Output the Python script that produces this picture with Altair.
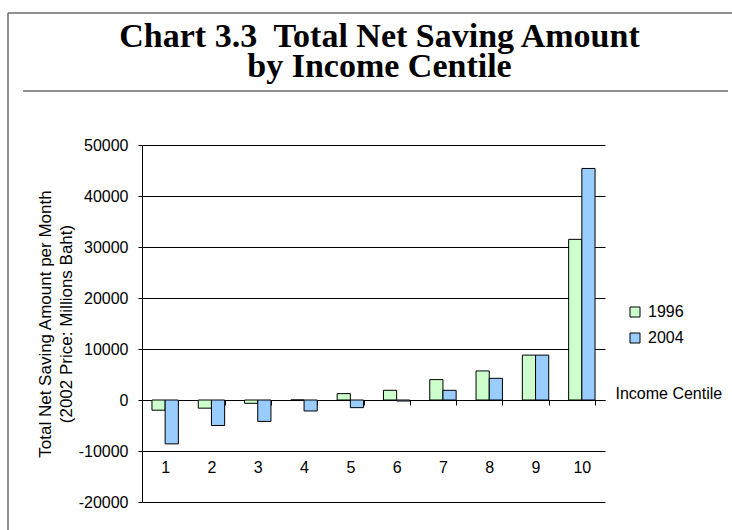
import altair as alt
import pandas as pd

centiles = [str(i) for i in range(1, 11)]
years = ["1996", "2004"]
saving_1996 = [-2000, -1600, -650, 0, 1250, 1900, 4000, 5700, 8800, 31500]
saving_2004 = [-8600, -5000, -4200, -2150, -1500, -200, 1900, 4250, 8800, 45400]
y_ticks = [-20000, -10000, 0, 10000, 20000, 30000, 40000, 50000]
bar_colors = ["#CCFFCC", "#99CCFF"]

rows = []
for c, a, b in zip(centiles, saving_1996, saving_2004):
    rows.append({"centile": c, "year": years[0], "value": a})
    rows.append({"centile": c, "year": years[1], "value": b})
df = pd.DataFrame(rows)
dummy = pd.DataFrame({"k": [0]})

W, H = 463, 357
FONT = "Liberation Sans"

bars = alt.Chart(df).mark_bar(stroke="black", strokeWidth=1).encode(
    x=alt.X(
        "centile:N",
        sort=centiles,
        scale=alt.Scale(paddingInner=0.43, paddingOuter=0.215),
        axis=alt.Axis(
            title="Income Centile",
            titleX=473, titleY=-7, titleAlign="left", titleBaseline="middle",
            titleAngle=0, titleFont=FONT, titleFontSize=16, titleFontWeight="normal",
            titleColor="black",
            labelAngle=0, labelFont=FONT, labelFontSize=16, labelColor="black",
            labelPadding=54, offset=-102, tickBand="extent", tickSize=5,
            tickColor="black", domainColor="black", grid=False,
        ),
    ),
    xOffset=alt.XOffset("year:N", sort=years, scale=alt.Scale(paddingInner=0, paddingOuter=0)),
    y=alt.Y(
        "value:Q",
        scale=alt.Scale(domain=[-20000, 50000], nice=False, zero=True),
        axis=alt.Axis(
            values=y_ticks, labelExpr="'' + datum.value",
            title=["Total Net Saving Amount  per Month", "(2002 Price: Millions Baht)"],
            titleFont=FONT, titleFontSize=17, titleFontWeight="normal", titleColor="black",
            titleLineHeight=21, titlePadding=3,
            labelFont=FONT, labelFontSize=16, labelColor="black", labelPadding=10,
            tickSize=4, tickColor="black", domainColor="black",
            grid=True, gridColor="black", gridOpacity=1, gridWidth=1,
        ),
    ),
    color=alt.Color(
        "year:N",
        sort=years,
        scale=alt.Scale(domain=years, range=bar_colors),
        legend=alt.Legend(
            title=None, orient="none", legendX=485, legendY=159,
            symbolType="square", symbolSize=100, symbolStrokeColor="black",
            symbolStrokeWidth=1, labelFont=FONT, labelFontSize=16, labelColor="black",
            labelOffset=5, rowPadding=10, padding=0,
        ),
    ),
)

frame_color = "#6b6b6b"
frame_left = alt.Chart(dummy).mark_rule(color=frame_color, strokeWidth=1.5).encode(
    x=alt.value(-134), y=alt.value(-132), y2=alt.value(390)
)
frame_top = alt.Chart(dummy).mark_rule(color=frame_color, strokeWidth=1.5).encode(
    x=alt.value(-134), x2=alt.value(592), y=alt.value(-132)
)
separator = alt.Chart(dummy).mark_rule(color=frame_color, strokeWidth=1.5).encode(
    x=alt.value(-119), x2=alt.value(586), y=alt.value(-54)
)

chart = alt.layer(bars, frame_left, frame_top, separator).properties(
    width=W,
    height=H,
    autosize=alt.AutoSizeParams(type="none"),
    padding={"left": 142, "top": 145, "right": 127, "bottom": 28},
    background="white",
    title=alt.TitleParams(
        text=["Chart 3.3\u00a0 Total Net Saving Amount", "by Income Centile"],
        font="Liberation Serif", fontSize=34, fontWeight="bold", color="black",
        anchor="middle", frame="group", lineHeight=30, offset=-72, dx=6,
    ),
).configure_view(stroke=None)

chart.save("out.html", embed_options={"renderer": "svg", "actions": False})
